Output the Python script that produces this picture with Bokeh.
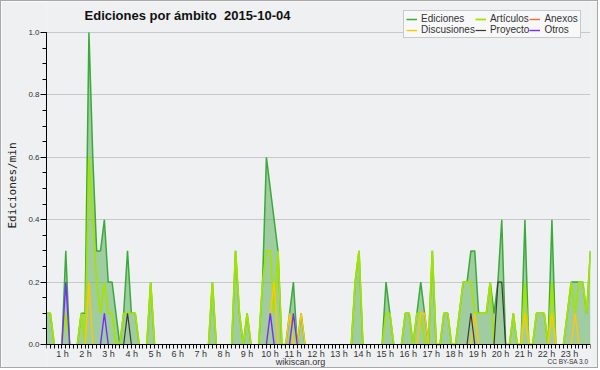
from bokeh.plotting import figure
from bokeh.models import Range1d, FixedTicker, Legend, LegendItem, Label, PrintfTickFormatter
from bokeh.embed import file_html
from bokeh.resources import INLINE

# ---- data: edits per minute, 10-minute samples, 2015-10-04 ----
hours = list(range(1, 24))
hour_labels = [f"{h} h" for h in hours]

ediciones = [
    0.1, 0.1, 0, 0, 0, 0.3, 0, 0, 0, 0.1, 0.1, 1.0,
    0.6, 0.3, 0.3, 0.4, 0.2, 0.2, 0.1, 0, 0.1, 0.3, 0.1, 0.1,
    0, 0, 0, 0.2, 0, 0, 0, 0, 0, 0, 0, 0,
    0, 0, 0, 0, 0, 0, 0, 0.2, 0, 0, 0, 0,
    0, 0.3, 0.1, 0, 0.1, 0, 0, 0, 0.2, 0.6, 0.5, 0.4,
    0.3, 0, 0, 0.1, 0.2, 0, 0.1, 0, 0, 0, 0, 0,
    0, 0, 0, 0, 0, 0, 0, 0, 0.2, 0.3, 0, 0,
    0, 0, 0, 0, 0.2, 0.1, 0, 0, 0, 0.1, 0.1, 0,
    0.1, 0.2, 0.1, 0, 0.3, 0, 0, 0.1, 0.1, 0, 0, 0.1,
    0.2, 0.2, 0.3, 0.3, 0.1, 0.1, 0.1, 0.2, 0.1, 0.2, 0.4, 0,
    0, 0.1, 0, 0, 0.4, 0, 0, 0.1, 0.1, 0.1, 0, 0.4,
    0, 0, 0, 0.1, 0.2, 0.2, 0.2, 0.2, 0.1, 0.3,
]
articulos = [
    0.1, 0.1, 0, 0, 0, 0.1, 0, 0, 0, 0.1, 0, 0.6,
    0.4, 0.2, 0.1, 0.2, 0.1, 0.1, 0, 0, 0.1, 0.1, 0.1, 0.1,
    0, 0, 0, 0.2, 0, 0, 0, 0, 0, 0, 0, 0,
    0, 0, 0, 0, 0, 0, 0, 0.2, 0, 0, 0, 0,
    0, 0.3, 0.1, 0, 0.1, 0, 0, 0, 0.2, 0.3, 0.3, 0.1,
    0.3, 0, 0, 0, 0.1, 0, 0, 0, 0, 0, 0, 0,
    0, 0, 0, 0, 0, 0, 0, 0, 0.2, 0.3, 0, 0,
    0, 0, 0, 0, 0.1, 0.1, 0, 0, 0, 0.1, 0.1, 0,
    0.1, 0.1, 0, 0, 0.3, 0, 0, 0.1, 0.1, 0, 0, 0.1,
    0.2, 0.2, 0.2, 0.1, 0.1, 0.1, 0.1, 0.2, 0, 0, 0, 0,
    0, 0.1, 0, 0, 0.2, 0, 0, 0.1, 0.1, 0.1, 0, 0.2,
    0, 0, 0, 0.1, 0.2, 0.1, 0.2, 0.2, 0.1, 0.3,
]
anexos = [0] * 142
discusiones = [
    0, 0, 0, 0, 0, 0, 0, 0, 0, 0, 0, 0.2,
    0, 0, 0, 0, 0, 0, 0, 0, 0, 0, 0, 0,
    0, 0, 0, 0, 0, 0, 0, 0, 0, 0, 0, 0,
    0, 0, 0, 0, 0, 0, 0, 0, 0, 0, 0, 0,
    0, 0, 0, 0, 0, 0, 0, 0, 0, 0, 0.1, 0.2,
    0, 0, 0, 0.1, 0, 0, 0.1, 0, 0, 0, 0, 0,
    0, 0, 0, 0, 0, 0, 0, 0, 0, 0, 0, 0,
    0, 0, 0, 0, 0, 0, 0, 0, 0, 0, 0, 0,
    0, 0.1, 0.1, 0, 0, 0, 0, 0, 0, 0, 0, 0,
    0, 0, 0, 0.1, 0, 0, 0, 0, 0, 0, 0, 0,
    0, 0, 0, 0, 0.1, 0, 0, 0, 0, 0, 0, 0.1,
    0, 0, 0, 0, 0, 0.1, 0, 0, 0, 0,
]
proyecto = [
    0, 0, 0, 0, 0, 0, 0, 0, 0, 0, 0, 0,
    0, 0, 0, 0, 0, 0, 0, 0, 0, 0.1, 0, 0,
    0, 0, 0, 0, 0, 0, 0, 0, 0, 0, 0, 0,
    0, 0, 0, 0, 0, 0, 0, 0, 0, 0, 0, 0,
    0, 0, 0, 0, 0, 0, 0, 0, 0, 0, 0, 0,
    0, 0, 0, 0, 0, 0, 0, 0, 0, 0, 0, 0,
    0, 0, 0, 0, 0, 0, 0, 0, 0, 0, 0, 0,
    0, 0, 0, 0, 0, 0, 0, 0, 0, 0, 0, 0,
    0, 0, 0, 0, 0, 0, 0, 0, 0, 0, 0, 0,
    0, 0, 0.1, 0, 0, 0, 0, 0, 0, 0.2, 0.2, 0,
    0, 0, 0, 0, 0, 0, 0, 0, 0, 0, 0, 0,
    0, 0, 0, 0, 0, 0, 0, 0, 0, 0,
]
otros = [
    0, 0, 0, 0, 0, 0.2, 0, 0, 0, 0, 0, 0,
    0, 0, 0, 0.1, 0, 0, 0, 0, 0, 0, 0, 0,
    0, 0, 0, 0, 0, 0, 0, 0, 0, 0, 0, 0,
    0, 0, 0, 0, 0, 0, 0, 0, 0, 0, 0, 0,
    0, 0, 0, 0, 0, 0, 0, 0, 0, 0, 0.1, 0,
    0, 0, 0, 0, 0.1, 0, 0, 0, 0, 0, 0, 0,
    0, 0, 0, 0, 0, 0, 0, 0, 0, 0, 0, 0,
    0, 0, 0, 0, 0, 0, 0, 0, 0, 0, 0, 0,
    0, 0, 0, 0, 0, 0, 0, 0, 0, 0, 0, 0,
    0, 0, 0, 0, 0, 0, 0, 0, 0, 0, 0, 0,
    0, 0, 0, 0, 0, 0, 0, 0, 0, 0, 0, 0,
    0, 0, 0, 0, 0, 0, 0, 0, 0, 0,
]

n = len(ediciones)
idx = list(range(n))


def hide_flat_zero(vals):
    out = []
    for i, v in enumerate(vals):
        left = vals[i - 1] if i > 0 else 0
        right = vals[i + 1] if i < len(vals) - 1 else 0
        out.append(float("nan") if (v == 0 and left == 0 and right == 0) else v)
    return out


FONT = "Liberation Sans"
W, H = 598, 368
UNIT = 312.0          # pixels per 1.0 edit/min
BASE = 25.0           # pixels from frame bottom to y = 0
STEP = 544.0 / (n - 1)

p = figure(width=W, height=H, x_range=Range1d(0, n - 1),
           y_range=Range1d(-BASE / UNIT, (H - BASE) / UNIT),
           output_backend="svg", toolbar_location=None, title=None,
           min_border_left=45, min_border_right=9, min_border_top=0, min_border_bottom=0,
           background_fill_color="#eff0f1", border_fill_color="#eff0f1")
p.outline_line_color = None
p.styles = {"border": "1px solid #a8a8a8"}

# area + lines
p.varea(x=idx, y1=[0] * n, y2=ediciones, fill_color="#52aa4e", fill_alpha=0.5)
r_ed = p.line(idx, hide_flat_zero(ediciones), line_color="#3aaa3a", line_width=1.5)
r_art = p.line(idx, hide_flat_zero(articulos), line_color="#a2e400", line_width=1.8)
r_anx = p.line(idx, hide_flat_zero(anexos), line_color="#ff6a30", line_width=1.4)
r_dis = p.line(idx, hide_flat_zero(discusiones), line_color="#ffc800", line_width=1.4)
r_pro = p.line(idx, hide_flat_zero(proyecto), line_color="#3a3a3a", line_width=1.2)
r_otr = p.line(idx, hide_flat_zero(otros), line_color="#7a2cff", line_width=1.4)

# x axis drawn at y = 0: ticks every 10 min, hour labels
label_pos = [round((16 + (h - 1) * 23.05) / STEP, 3) for h in hours]
xa = p.xaxis[0]
xa.fixed_location = 0
xa.ticker = FixedTicker(ticks=label_pos, minor_ticks=idx)
xa.major_label_overrides = {pos: lab for pos, lab in zip(label_pos, hour_labels)}
xa.major_tick_out = 0
xa.major_tick_in = 0
xa.minor_tick_out = 4
xa.minor_tick_in = 0
xa.minor_tick_line_color = "black"
xa.axis_line_color = "black"
xa.major_label_standoff = 0
xa.major_label_text_font = FONT
xa.major_label_text_font_size = "9px"
xa.major_label_text_color = "#333333"

# y axis
ya = p.yaxis[0]
ya.bounds = (0, 1)
ya.ticker = FixedTicker(ticks=[0, 0.2, 0.4, 0.6, 0.8, 1.0],
                        minor_ticks=[round(0.05 * k, 2) for k in range(21)])
ya.formatter = PrintfTickFormatter(format="%.1f")
ya.major_tick_out = 6
ya.major_tick_in = 0
ya.minor_tick_out = 4
ya.minor_tick_in = 0
ya.minor_tick_line_color = "black"
ya.axis_line_color = "black"
ya.major_label_standoff = 1
ya.major_label_text_font = FONT
ya.major_label_text_font_size = "8px"
ya.major_label_text_color = "#333333"
ya.axis_label = "Ediciones/min"
ya.axis_label_text_font = "DejaVu Sans Mono"
ya.axis_label_text_font_size = "11px"
ya.axis_label_text_font_style = "normal"
ya.axis_label_text_color = "#222222"
ya.axis_label_standoff = 6

p.xgrid.visible = False
p.ygrid.ticker = FixedTicker(ticks=[0.2, 0.4, 0.6, 0.8, 1.0])
p.ygrid.grid_line_color = "#c8c8c8"

# texts (screen units, relative to the frame's bottom-left)
p.add_layout(Label(x=141, y=354, x_units="screen", y_units="screen",
                   text="Ediciones por ámbito \u00a02015-10-04", text_align="center",
                   text_baseline="middle", text_font=FONT, text_font_size="13px",
                   text_font_style="bold", text_color="#111111"))
p.add_layout(Label(x=254, y=8, x_units="screen", y_units="screen",
                   text="wikiscan.org", text_align="center", text_baseline="middle",
                   text_font=FONT, text_font_size="9px", text_color="#333333"))
p.add_layout(Label(x=542, y=8, x_units="screen", y_units="screen",
                   text="CC BY-SA 3.0", text_align="right", text_baseline="middle",
                   text_font=FONT, text_font_size="6.5px", text_color="#333333"))

legend = Legend(items=[
    LegendItem(label="Ediciones", renderers=[r_ed]),
    LegendItem(label="Discusiones", renderers=[r_dis]),
    LegendItem(label="Artículos", renderers=[r_art]),
    LegendItem(label="Proyecto", renderers=[r_pro]),
    LegendItem(label="Anexos", renderers=[r_anx]),
    LegendItem(label="Otros", renderers=[r_otr]),
], location=(357, 331), orientation="vertical", nrows=2)
legend.label_text_font = FONT
legend.label_text_font_size = "10px"
legend.label_text_color = "#333333"
legend.label_height = 8
legend.glyph_height = 8
legend.glyph_width = 11
legend.label_standoff = 4
legend.spacing = 0
legend.padding = 2
legend.margin = 0
legend.border_line_color = "#999999"
legend.background_fill_color = "#f8f8f8"
legend.background_fill_alpha = 1.0
p.add_layout(legend, "center")

open("out.html", "w").write(file_html(p, INLINE))
